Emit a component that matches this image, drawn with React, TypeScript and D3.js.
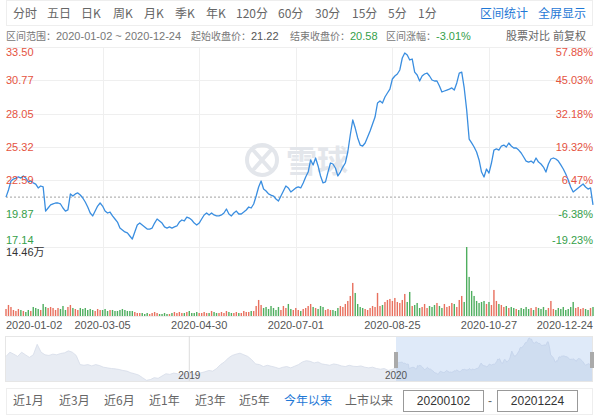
import React, { useEffect } from 'react';
import * as d3 from 'd3';

// ---------- data ----------
const PRICE: number[] = [
  21.22, 21.80, 22.54, 22.70, 22.78, 22.87, 22.78, 22.95, 22.78, 22.46,
  22.54, 22.38, 22.29, 21.97, 22.13, 22.05, 20.08, 20.33, 20.58, 20.66,
  20.74, 20.74, 20.66, 20.33, 20.08, 20.17, 21.48, 21.31, 21.48, 21.56,
  21.39, 21.15, 20.82, 20.41, 19.92, 19.68, 20.08, 20.49, 20.74, 20.49,
  20.08, 19.92, 20.00, 19.68, 19.43, 19.18, 18.69, 18.53, 18.37, 18.29,
  18.04, 17.79, 18.37, 18.94, 19.10, 18.94, 18.78, 18.61, 18.61, 18.69,
  19.10, 19.43, 19.27, 19.10, 18.78, 18.69, 18.78, 18.69, 18.78, 18.86,
  19.18, 19.35, 19.27, 19.59, 19.51, 19.35, 19.10, 18.94, 19.10, 19.43,
  19.76, 19.92, 19.76, 19.92, 19.76, 19.68, 19.68, 19.76, 19.92, 20.25,
  19.84, 19.68, 19.92, 20.08, 19.84, 19.84, 20.00, 20.17, 20.41, 20.33,
  20.66, 21.31, 22.05, 22.54, 21.88, 21.72, 21.48, 21.39, 21.31, 21.07,
  20.90, 21.31, 21.72, 22.13, 21.97, 21.64, 21.80, 21.97, 22.05, 21.97,
  22.38, 22.87, 23.27, 24.26, 23.85, 24.42, 23.77, 22.95, 22.38, 22.46,
  23.27, 24.01, 23.93, 23.60, 22.95, 23.27, 23.68, 24.01, 24.91, 26.30,
  27.53, 26.87, 26.06, 25.48, 25.40, 25.65, 26.14, 26.63, 27.20, 27.77,
  28.92, 29.08, 28.92, 29.41, 29.74, 30.06, 30.88, 31.13, 31.29, 31.62,
  32.60, 33.01, 32.85, 32.44, 32.52, 31.45, 31.21, 30.72, 31.13, 31.29,
  31.37, 31.13, 30.80, 30.72, 30.72, 30.31, 29.82, 29.90, 29.98, 30.06,
  30.15, 29.98, 30.56, 31.37, 31.45, 30.15, 28.35, 25.97, 25.65, 25.32,
  24.91, 24.26, 23.27, 22.87, 23.52, 23.19, 24.01, 25.07, 25.16, 25.07,
  25.40, 25.48, 25.32, 25.65, 25.40, 25.24, 25.24, 25.07, 24.83, 24.50,
  24.17, 24.09, 24.17, 24.01, 24.42, 24.09, 23.93, 23.68, 23.27, 23.93,
  24.34, 24.42, 24.34, 24.17, 23.85, 23.52, 23.11, 22.62, 22.05, 21.64,
  21.80, 21.97, 22.13, 22.29, 22.05, 21.88, 21.97, 20.58,
];

// volume in 万
const VOLUME: number[] = [
  1.47, 2.31, 1.89, 1.26, 1.05, 1.47, 1.26, 1.05, 0.84, 1.26, 1.05, 1.89, 1.68, 1.47, 1.26, 2.52,
  1.89, 1.68, 1.89, 1.68, 1.26, 1.68, 1.47, 2.10, 1.26, 1.89, 2.31, 1.68, 1.47, 1.26,
  1.68, 1.47, 1.68, 1.26, 1.47, 1.26, 1.05, 1.47, 1.26, 1.26, 1.47, 1.05, 1.26, 1.26, 1.05, 1.05, 1.26, 1.47, 1.26, 1.05, 1.05,
  1.05, 0.84, 0.63, 0.63, 0.63, 0.42, 0.63, 0.42, 0.63, 0.84, 0.63, 0.42, 0.42, 0.63, 0.42, 0.42, 0.63, 0.84, 0.63, 0.84, 0.63, 0.63, 0.84, 1.05, 0.63, 0.63, 0.84, 0.63, 0.63, 0.84,
  0.63, 0.63, 1.05, 0.84, 0.63, 0.63, 0.84, 0.63, 1.05, 0.84, 0.63, 0.63, 0.84, 0.63, 0.63, 1.05, 0.84, 0.84, 1.05, 1.05,
  2.10, 3.36, 2.31, 1.68, 1.89, 1.47, 2.10, 1.68, 1.26, 1.89, 1.26, 2.10, 1.68, 2.52, 1.47, 1.26, 1.68, 1.26, 1.05, 1.47,
  1.68, 2.10, 2.52, 1.89, 1.68, 1.47, 2.10, 1.89, 1.26, 1.47, 1.26, 1.26, 1.05, 1.68, 2.10, 1.89, 2.52, 3.15,
  4.20, 6.93, 4.83, 2.52, 1.89, 1.68, 1.47, 1.26, 1.68, 2.10, 1.89, 4.83, 2.10, 2.31, 2.94, 3.36, 3.57, 3.15, 3.78, 2.94, 2.73, 3.36,
  4.62, 2.94, 5.04, 2.10, 2.31, 2.73, 1.68, 1.89, 2.52, 1.68, 2.10, 1.89, 2.31, 2.73, 2.10, 1.68, 2.52, 1.89, 2.10, 2.73, 2.52, 1.89, 3.36, 4.20, 2.94,
  14.46, 8.19, 5.25, 4.20, 3.15, 2.73, 2.94, 3.15, 2.52, 2.94, 2.31, 5.46, 3.15, 2.52,
  2.31, 1.89, 2.10, 1.68, 1.89, 1.68, 1.47, 1.26, 1.68, 1.47, 1.89, 1.47, 1.68, 1.26, 1.89, 1.68, 1.47, 1.89, 1.26, 1.68,
  3.15, 1.47, 1.26, 1.68, 1.47, 1.89, 1.26, 1.47, 1.89, 2.94, 1.68, 1.89, 1.47, 1.68, 1.47, 1.26, 1.68, 1.89,
];

// navigator history before 2020 (weekly closes)
const NAV_HISTORY: number[] = [
  25.31, 27.08, 26.26, 25.31, 27.08, 25.99, 24.90, 25.99, 30.36, 27.08,
  25.99, 25.72, 26.26, 25.99, 26.54, 26.81, 27.63, 27.08, 25.72, 21.90,
  21.62, 21.90, 21.35, 21.90, 21.49, 20.80, 20.53, 20.26, 20.12, 19.85,
  19.44, 19.17, 18.48, 18.07, 17.53, 16.44, 15.34, 15.62, 16.44, 16.16,
  17.12, 18.07, 17.80, 18.35, 18.07, 17.80, 18.07, 18.35, 17.80, 18.07,
  18.48, 18.89, 19.44, 19.17, 20.26, 21.90, 22.99, 24.63, 25.72, 26.26,
  26.67, 25.99, 25.31, 23.94, 22.17, 21.90, 21.08, 21.62, 21.21, 20.80,
  20.26, 20.80, 21.08, 20.53, 21.21, 21.90, 22.99, 23.53, 23.26, 22.58,
  22.99, 22.17, 21.90, 21.62, 22.17, 21.90, 21.35, 21.08, 21.62, 21.21,
  21.08, 21.35, 20.80, 20.53, 20.80, 20.26, 19.98, 20.26, 19.44, 19.85, 20.53,
];

const DATE_TICKS = ['2020-01-02', '2020-03-05', '2020-04-30', '2020-07-01', '2020-08-25', '2020-10-27', '2020-12-24'];
const DATE_TICK_INDEX = [0, 39, 78, 117, 156, 195, 237];
const PRICE_TICKS = [33.50, 30.77, 28.05, 25.32, 22.59, 19.87, 17.14];
const PCT_TICKS = ['57.88%', '45.03%', '32.18%', '19.32%', '6.47%', '-6.38%', '-19.23%'];
const BASE_CLOSE = 21.22;
const END_CLOSE = 20.58;
const CHANGE = '-3.01%';
const VOL_MAX = 14.46;
const VOL_LABEL = '14.46万';
const TOOLBAR_LEFT = ['分时', '五日', '日K', '周K', '月K', '季K', '年K', '120分', '60分', '30分', '15分', '5分', '1分'];
const TOOLBAR_RIGHT = ['区间统计', '全屏显示'];
const RANGE_BUTTONS = ['近1月', '近3月', '近6月', '近1年', '近3年', '近5年', '今年以来', '上市以来'];
const NAV_YEARS = ['2019', '2020'];
const RANGE_START = '20200102';
const RANGE_END = '20201224';

// ---------- layout ----------
const NUM = '"Liberation Sans", Arial, sans-serif';
const CJK = '"Noto Sans CJK SC", "Liberation Sans", sans-serif';
const RED = '#e5533f';
const GREEN = '#35a04a';
const RED_BAR = '#e8705e';
const GREEN_BAR = '#4fae5f';
const BLUE = '#1f78d6';
const GRID = '#efefef';
const WM = '#e3e6eb';

const TOOLBAR_X = [13, 47, 81, 113, 144, 175, 206, 236, 278, 315, 352, 388, 418];
const TOOLBAR_RX = [480, 538];
const RANGE_X = [13, 59, 104, 149, 195, 239, 284, 345];

export default function App() {
  useEffect(() => {
    document.body.style.margin = '0';
  }, []);

  const L = 6, R = 593, T = 47, B = 247, VB = 316;
  const x = d3.scaleLinear().domain([0, PRICE.length - 1]).range([L, R]);
  const y = d3.scaleLinear().domain([PRICE_TICKS[PRICE_TICKS.length - 1], PRICE_TICKS[0]]).range([B, T]);
  const yv = d3.scaleLinear().domain([0, VOL_MAX]).range([VB, B]);
  const line = d3.line<number>().x((_, i) => x(i)).y((d) => y(d));

  // navigator
  const NL = 6, NR = 592, NT = 336, NB = 381, NSPLIT = 396;
  const nxHist = d3.scaleLinear().domain([0, NAV_HISTORY.length - 1]).range([NL, NSPLIT]);
  const nxCur = d3.scaleLinear().domain([0, PRICE.length - 1]).range([NSPLIT, NR]);
  const allNav = [...NAV_HISTORY, ...PRICE];
  const ny = d3.scaleLinear().domain([(d3.min(allNav) as number) - 0.3, d3.max(allNav) as number]).range([NB, NT + 2]);
  const navPts: [number, number][] = [
    ...NAV_HISTORY.map((v, i) => [nxHist(i), ny(v)] as [number, number]),
    ...PRICE.map((v, i) => [nxCur(i), ny(v)] as [number, number]),
  ];
  const navArea = d3.area<[number, number]>().x((d) => d[0]).y0(NB).y1((d) => d[1]);
  const navLine = d3.line<[number, number]>().x((d) => d[0]).y((d) => d[1]);
  const year2019X = nxHist(Math.round((NAV_HISTORY.length - 1) * ((190 - NL) / (NSPLIT - NL))));

  const bw = 1.4;

  return (
    <svg width={600} height={420} style={{ position: 'absolute', left: 0, top: 0, background: '#fff' }}>
      {/* toolbar */}
      <rect x={6.5} y={0.5} width={586} height={25} fill="#fff" stroke="#eeeeee" />
      {TOOLBAR_LEFT.map((t, i) => (
        <text key={t} x={TOOLBAR_X[i]} y={18} fontSize={12} fontFamily={CJK} fill="#666">{t}</text>
      ))}
      {TOOLBAR_RIGHT.map((t, i) => (
        <text key={t} x={TOOLBAR_RX[i]} y={18} fontSize={12} fontFamily={CJK} fill={BLUE}>{t}</text>
      ))}

      {/* info row */}
      <text x={6} y={40} fontSize={10} fontFamily={CJK} fill="#777">
        区间范围：<tspan fontFamily={NUM} fontSize={11}>{DATE_TICKS[0]} ~ {DATE_TICKS[DATE_TICKS.length - 1]}</tspan>
      </text>
      <text x={191} y={40} fontSize={10} fontFamily={CJK} fill="#777">
        起始收盘价：<tspan fill="#555" fontFamily={NUM} fontSize={11}>{BASE_CLOSE.toFixed(2)}</tspan>
      </text>
      <text x={290} y={40} fontSize={10} fontFamily={CJK} fill="#777">
        结束收盘价：<tspan fill={GREEN} fontFamily={NUM} fontSize={11}>{END_CLOSE.toFixed(2)}</tspan>
      </text>
      <text x={386} y={40} fontSize={10} fontFamily={CJK} fill="#777">
        区间涨幅：<tspan fill={GREEN} fontFamily={NUM} fontSize={11}>{CHANGE}</tspan>
      </text>
      <text x={506} y={40} fontSize={11} fontFamily={CJK} fill="#666">股票对比</text>
      <text x={553} y={40} fontSize={11} fontFamily={CJK} fill="#666">前复权</text>

      {/* grid */}
      {PRICE_TICKS.map((p, i) => (
        <line key={'h' + i} x1={L} x2={R} y1={Math.round(y(p)) + 0.5} y2={Math.round(y(p)) + 0.5} stroke={GRID} />
      ))}
      <line x1={L} x2={R} y1={VB + 0.5} y2={VB + 0.5} stroke={GRID} />
      {DATE_TICK_INDEX.slice(1, -1).map((idx) => (
        <line key={'v' + idx} x1={Math.round(x(idx)) + 0.5} x2={Math.round(x(idx)) + 0.5} y1={T} y2={VB} stroke={GRID} />
      ))}

      {/* watermark */}
      <g>
        <circle cx={262} cy={160} r={15} fill="none" stroke={WM} strokeWidth={4} />
        <path d="M254,151 L270,169 M270,151 L254,169" fill="none" stroke={WM} strokeWidth={4} strokeLinecap="round" />
        <text x={286} y={172} fontSize={31} fontWeight="bold" fontFamily={CJK} fill={WM}>雪球</text>
      </g>

      {/* base dashed line */}
      <line x1={L} x2={R} y1={y(BASE_CLOSE)} y2={y(BASE_CLOSE)} stroke="#8a8a8a" strokeDasharray="2,2" strokeWidth={0.8} />

      {/* volume */}
      {VOLUME.map((v, i) => {
        const up = i === 0 ? true : PRICE[i] >= PRICE[i - 1];
        return (
          <rect key={'b' + i} x={x(i) - bw / 2} y={yv(v)} width={bw} height={VB - yv(v)} fill={up ? RED_BAR : GREEN_BAR} />
        );
      })}

      {/* price line */}
      <path d={line(PRICE) || ''} fill="none" stroke="#3a8ee0" strokeWidth={1.3} strokeLinejoin="round" />

      {/* axis labels */}
      {PRICE_TICKS.map((p, i) => {
        const gy = y(p);
        const ty = i === 0 ? gy + 9 : i === PRICE_TICKS.length - 1 ? gy - 3 : gy + 4;
        const c = p >= BASE_CLOSE ? RED : GREEN;
        return (
          <g key={'l' + i}>
            <text x={L} y={ty} fontSize={11} fontFamily={NUM} fill={c}>{p.toFixed(2)}</text>
            <text x={R} y={ty} fontSize={11} fontFamily={NUM} fill={c} textAnchor="end">{PCT_TICKS[i]}</text>
          </g>
        );
      })}
      <text x={L} y={256} fontSize={11} fontFamily={NUM} fill="#333">
        14.46<tspan fontFamily={CJK}>{VOL_LABEL.slice(-1)}</tspan>
      </text>

      {/* date labels */}
      {DATE_TICKS.map((d, i) => (
        <text
          key={d}
          x={i === 0 ? L : i === DATE_TICKS.length - 1 ? R : x(DATE_TICK_INDEX[i])}
          y={329}
          fontSize={11}
          fontFamily={NUM}
          fill="#555"
          textAnchor={i === 0 ? 'start' : i === DATE_TICKS.length - 1 ? 'end' : 'middle'}
        >
          {d}
        </text>
      ))}

      {/* navigator */}
      <rect x={NL - 0.5} y={NT + 0.5} width={NR - NL + 1} height={NB - NT} fill="#fff" stroke="#e6e6e6" />
      <path d={navArea(navPts) || ''} fill="#e8ecf3" />
      <path d={navLine(navPts) || ''} fill="none" stroke="#d6dce8" strokeWidth={0.8} />
      <line x1={year2019X} x2={year2019X} y1={NT} y2={NB} stroke="#dddddd" />
      <rect x={NSPLIT} y={NT + 1} width={NR - NSPLIT} height={NB - NT - 1} fill="rgba(150,185,235,0.3)" />
      <rect x={NSPLIT - 2} y={352} width={4} height={16} fill="#aaaaaa" />
      <rect x={NR - 2} y={352} width={4} height={16} fill="#aaaaaa" />
      <text x={year2019X} y={379} fontSize={10} fontFamily={NUM} fill="#555" textAnchor="middle">{NAV_YEARS[0]}</text>
      <text x={NSPLIT} y={379} fontSize={10} fontFamily={NUM} fill="#555" textAnchor="middle">{NAV_YEARS[1]}</text>

      {/* range bar */}
      <rect x={6.5} y={388.5} width={586} height={26} fill="#fff" stroke="#eeeeee" />
      {RANGE_BUTTONS.map((t, i) => (
        <text key={t} x={RANGE_X[i]} y={405} fontSize={12} fontFamily={CJK} fill={t === '今年以来' ? BLUE : '#666'}>{t}</text>
      ))}
      <rect x={403.5} y={390.5} width={80} height={21} fill="#fff" stroke="#999" />
      <text x={443.5} y={405} fontSize={12} fontFamily={NUM} fill="#333" textAnchor="middle">{RANGE_START}</text>
      <text x={490} y={405} fontSize={12} fontFamily={NUM} fill="#666" textAnchor="middle">-</text>
      <rect x={497.5} y={390.5} width={80} height={21} fill="#fff" stroke="#999" />
      <text x={537.5} y={405} fontSize={12} fontFamily={NUM} fill="#333" textAnchor="middle">{RANGE_END}</text>
    </svg>
  );
}
